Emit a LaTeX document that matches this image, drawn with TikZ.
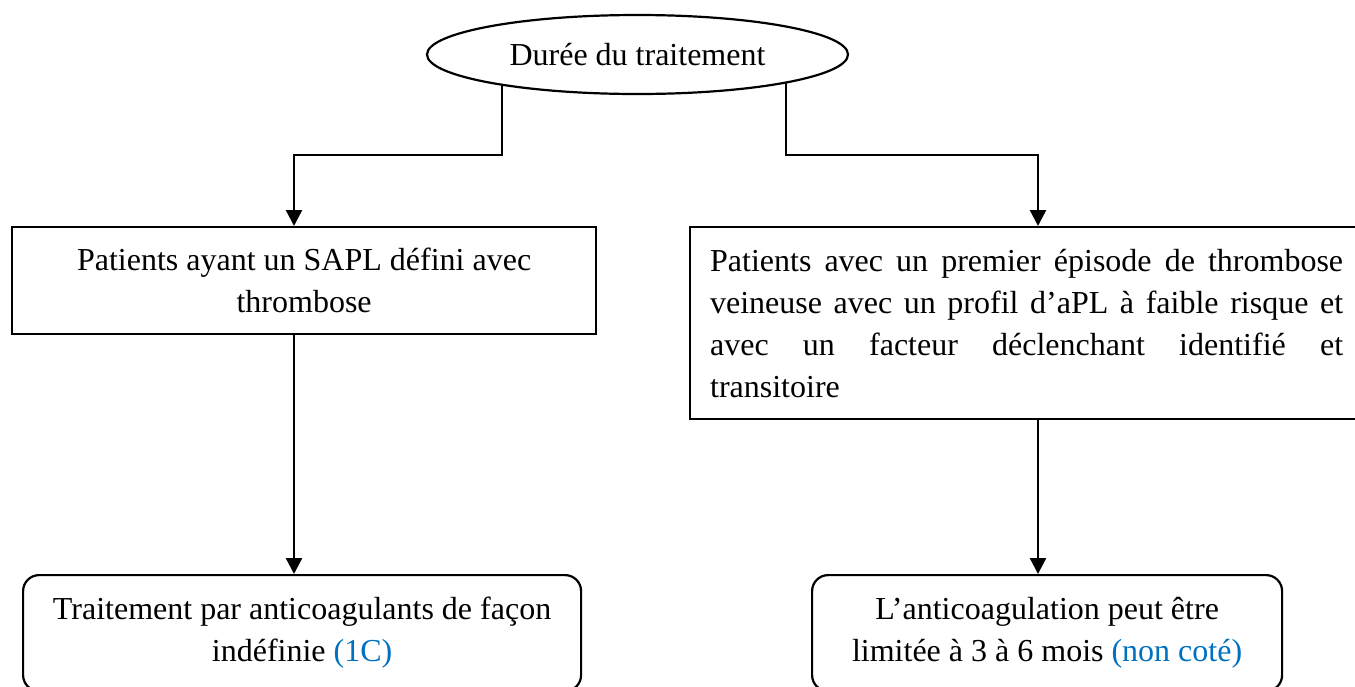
\documentclass[tikz,border=0pt]{standalone}
\usepackage{fontspec}
\setmainfont{Liberation Serif}
\usetikzlibrary{arrows.meta,shapes.geometric}
\definecolor{refblue}{RGB}{0,112,192}
\begin{document}
\begin{tikzpicture}[x=0.5pt,y=-0.5pt,
  every node/.style={font=\fontsize{16}{21}\selectfont},
  conn/.style={line width=1.2pt},
  arr/.style={conn,-{Triangle[length=8pt,width=8pt]}},
  sqbox/.style={draw,line width=1.1pt,inner sep=0pt,align=center},
  rbox/.style={draw,line width=1.1pt,rounded corners=8pt,inner sep=0pt,align=center},
  ovalbox/.style={draw,ellipse,line width=1.1pt,inner sep=0pt}]
\clip (0,0) rectangle (1355,686);

\node[ovalbox,minimum width=210.5pt,minimum height=39.5pt] (ell) at (637.5,54.5) {Durée du traitement};

\node[sqbox,minimum width=292pt,minimum height=53.5pt,anchor=north west] (b1) at (11,226)
  {Patients ayant un SAPL défini avec\\thrombose};

\node[draw,line width=1.1pt,anchor=north west,text width=316.5pt,inner xsep=10pt,inner ysep=0pt,
      minimum height=96pt,align=left] (b2) at (689,226)
  {\spaceskip=0pt\xspaceskip=0pt\relax
   \makebox[316.5pt][s]{Patients avec un premier épisode de thrombose}\\
   \makebox[316.5pt][s]{veineuse avec un profil d’aPL à faible risque et}\\
   \makebox[316.5pt][s]{avec un facteur déclenchant identifié et}\\
   transitoire};

\node[rbox,minimum width=279pt,minimum height=58pt,anchor=north west] (r1) at (22,574)
  {Traitement par anticoagulants de façon\\indéfinie \textcolor{refblue}{(1C)}};

\node[rbox,minimum width=235pt,minimum height=58pt,anchor=north west] (r2) at (811,574)
  {L’anticoagulation peut être\\limitée à 3 à 6 mois \textcolor{refblue}{(non coté)}};

\coordinate (j1) at (294,155);
\coordinate (j2) at (1038,155);

\draw[arr] (ell.193) |- (j1) -- (b1.north -| j1);
\draw[arr] (ell.349.8) |- (j2) -- (b2.north -| j2);
\draw[arr] (b1.south -| j1) -- (r1.north -| j1);
\draw[arr] (b2.south -| j2) -- (r2.north -| j2);
\end{tikzpicture}
\end{document}
